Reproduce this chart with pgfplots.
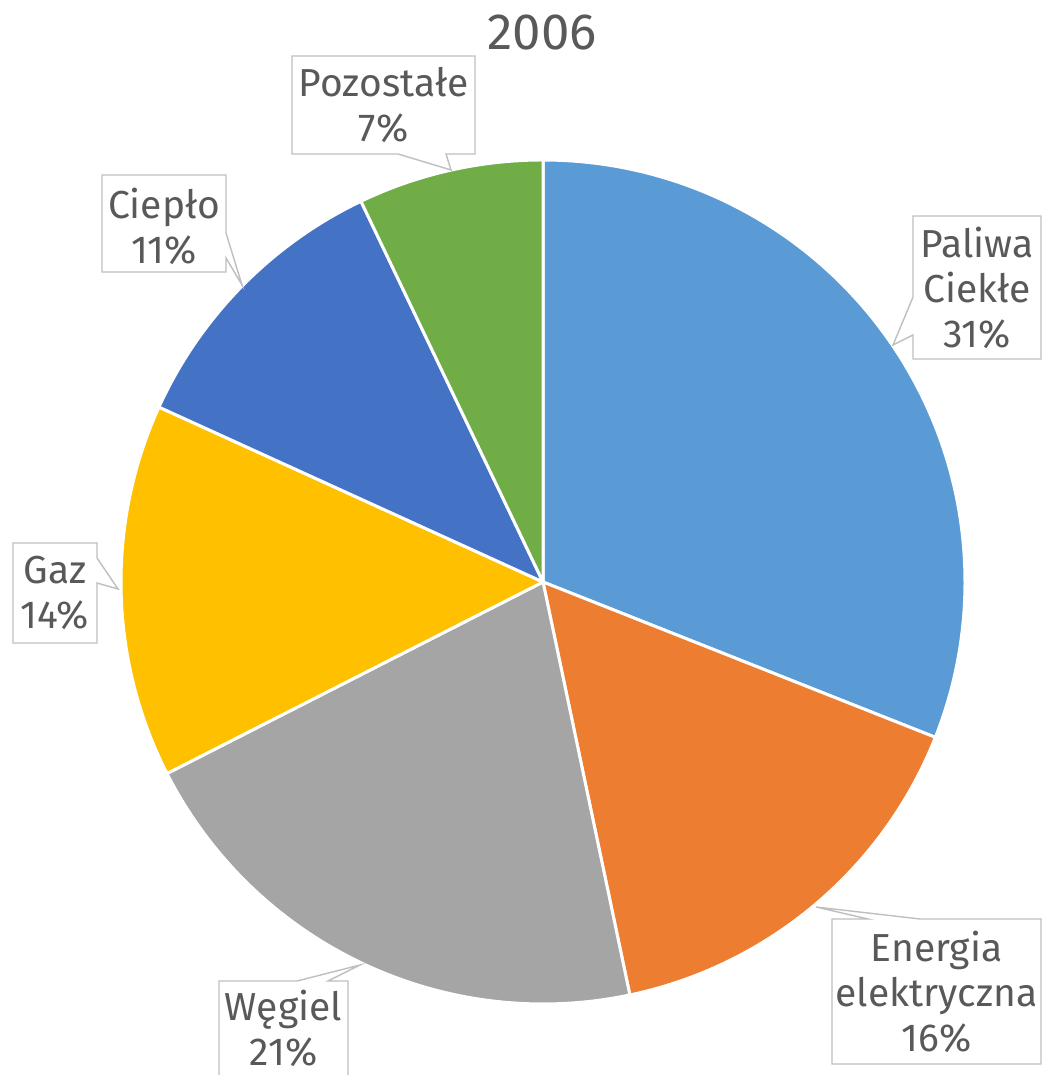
\documentclass[border=0pt]{standalone}
\usepackage{pgfplots}
\pgfplotsset{compat=1.18}
\usepackage{pgfplotstable}
\usepackage{fontspec}
\setmainfont{Fira Sans}
\definecolor{cA}{HTML}{5B9BD5}
\definecolor{cB}{HTML}{ED7D31}
\definecolor{cC}{HTML}{A5A5A5}
\definecolor{cD}{HTML}{FFC000}
\definecolor{cE}{HTML}{4472C4}
\definecolor{cF}{HTML}{70AD47}
\definecolor{txt}{HTML}{595959}
\definecolor{brd}{HTML}{BFBFBF}

% share (%) and colour of each slice, clockwise from the top
\pgfplotstableread{
value col
31.0 cA
15.7 cB
20.8 cC
14.3 cD
11.1 cE
7.1 cF
}\piedata
\pgfplotstablecreatecol[create col/expr accum={\pgfmathaccuma + \thisrow{value}}{0}]{cum}{\piedata}

\begin{document}
\begin{tikzpicture}
\begin{axis}[
  width=104.3mm, height=107.5mm, scale only axis,
  xmin=0, xmax=1043, ymin=0, ymax=1075,
  hide axis, clip=false,
]
\coordinate (bl) at (axis cs:0,0);
\coordinate (tr) at (axis cs:1043,1075);
\pgfplotsinvokeforeach{0,...,5}{
  \pgfplotstablegetelem{#1}{value}\of\piedata \let\sval\pgfplotsretval
  \pgfplotstablegetelem{#1}{cum}\of\piedata \let\scum\pgfplotsretval
  \pgfplotstablegetelem{#1}{col}\of\piedata \let\scol\pgfplotsretval
  \pgfmathsetmacro\angB{90-3.6*\scum}
  \pgfmathsetmacro\angA{\angB+3.6*\sval}
  \edef\doslice{\noexpand\addplot[fill=\scol, draw=white, line width=0.85pt, line join=round, domain=\angB:\angA, samples=90] ({543+422*cos(x)},{493+422*sin(x)}) -- (axis cs:543,493) -- cycle;}
  \doslice
}
% callouts
\tikzset{co/.style={draw=brd, fill=white, line width=0.4pt, line join=miter}}
\tikzset{lb/.style={align=center, text=txt, font=\fontsize{11.1}{12.8}\selectfont, inner sep=0pt}}
\draw[co] (axis cs:292,1019) -- (axis cs:475,1019) -- (axis cs:475,921) -- (axis cs:446,921) -- (axis cs:451,905) -- (axis cs:398,921) -- (axis cs:292,921) -- cycle;
\draw[co] (axis cs:102,900) -- (axis cs:226,900) -- (axis cs:226,842) -- (axis cs:242,790) -- (axis cs:226,817) -- (axis cs:226,803) -- (axis cs:102,803) -- cycle;
\draw[co] (axis cs:913,859) -- (axis cs:1041,859) -- (axis cs:1041,716) -- (axis cs:913,716) -- (axis cs:913,740) -- (axis cs:893,730) -- (axis cs:913,778) -- cycle;
\draw[co] (axis cs:13,532) -- (axis cs:97,532) -- (axis cs:97,517) -- (axis cs:118,486) -- (axis cs:97,492) -- (axis cs:97,432) -- (axis cs:13,432) -- cycle;
\draw[co] (axis cs:832,156) -- (axis cs:868,156) -- (axis cs:816,168) -- (axis cs:920,156) -- (axis cs:1041,156) -- (axis cs:1041,11) -- (axis cs:832,11) -- cycle;
\draw[co] (axis cs:219,0) -- (axis cs:219,94) -- (axis cs:297,94) -- (axis cs:360,110) -- (axis cs:328,94) -- (axis cs:348,94) -- (axis cs:348,0);
\node[lb] at (axis cs:383.5,970) {Pozostałe\\7\%};
\node[lb] at (axis cs:164,849) {Ciepło\\11\%};
\node[lb] at (axis cs:977,787) {Paliwa\\Ciekłe\\31\%};
\node[lb] at (axis cs:55,482) {Gaz\\14\%};
\node[lb] at (axis cs:936.5,83) {Energia\\elektryczna\\16\%};
\node[lb] at (axis cs:283.5,47) {Węgiel\\21\%};
\node[text=txt, font=\fontsize{14.5}{17}\selectfont, inner sep=0pt] at (axis cs:542,1042) {2006};
\end{axis}
\pgfresetboundingbox
\useasboundingbox (bl) rectangle (tr);
\end{tikzpicture}
\end{document}
